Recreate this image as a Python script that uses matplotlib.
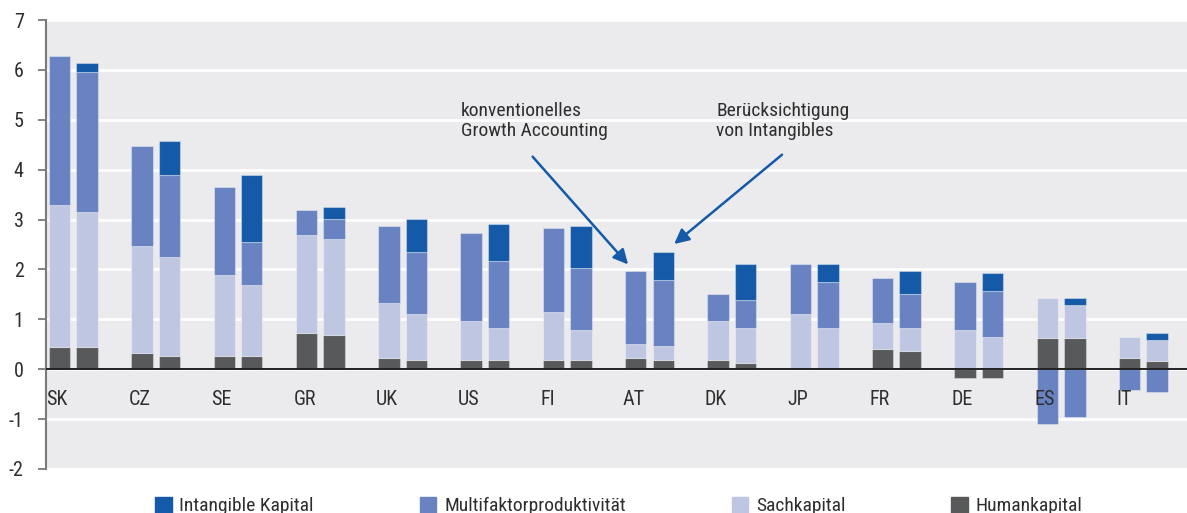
import numpy as np
import matplotlib.pyplot as plt
from matplotlib import font_manager
from matplotlib.patches import Patch

# schmale Schrift, falls vorhanden
installed = {f.name for f in font_manager.fontManager.ttflist}
narrow = [n for n in ['Liberation Sans Narrow', 'Roboto Condensed', 'DejaVu Sans Condensed',
                      'Open Sans Condensed', 'Noto Sans Condensed', 'Arial Narrow']
          if n in installed]
plt.rcParams['font.family'] = narrow + ['DejaVu Sans']
plt.rcParams['font.stretch'] = 'condensed'
plt.rcParams['axes.unicode_minus'] = False

countries = ['SK', 'CZ', 'SE', 'GR', 'UK', 'US', 'FI', 'AT', 'DK', 'JP', 'FR', 'DE', 'ES', 'IT']

# konventionelles Growth Accounting
human_conv = [0.45, 0.32, 0.27, 0.73, 0.23, 0.18, 0.18, 0.23, 0.18, 0.00, 0.41, -0.18, 0.63, 0.23]
sach_conv = [2.85, 2.15, 1.61, 1.97, 1.10, 0.78, 0.97, 0.27, 0.78, 1.10, 0.51, 0.78, 0.79, 0.41]
mfp_conv = [2.97, 2.01, 1.78, 0.50, 1.55, 1.78, 1.69, 1.47, 0.55, 1.01, 0.91, 0.96, -1.10, -0.41]

# mit Berücksichtigung von Intangibles
human_int = [0.45, 0.27, 0.27, 0.68, 0.18, 0.18, 0.18, 0.18, 0.13, 0.00, 0.37, -0.18, 0.63, 0.17]
sach_int = [2.71, 1.98, 1.42, 1.93, 0.92, 0.64, 0.60, 0.28, 0.69, 0.82, 0.46, 0.64, 0.66, 0.42]
mfp_int = [2.79, 1.65, 0.87, 0.41, 1.25, 1.34, 1.25, 1.33, 0.56, 0.93, 0.68, 0.92, -0.96, -0.45]
intang_int = [0.18, 0.67, 1.33, 0.23, 0.67, 0.76, 0.85, 0.55, 0.73, 0.36, 0.46, 0.37, 0.13, 0.14]

legend_labels = ['Intangible Kapital', 'Multifaktorproduktivität', 'Sachkapital', 'Humankapital']

c_intang = '#155aa8'
c_mfp = '#6983c2'
c_sach = '#bec6e2'
c_human = '#58595b'
text_col = '#2e2e2e'


def stacked(ax, x, parts, cols, width):
    pos = np.zeros(len(x))
    neg = np.zeros(len(x))
    for vals, c in zip(parts, cols):
        vals = np.asarray(vals, dtype=float)
        bottom = np.where(vals >= 0, pos, neg)
        ax.bar(x, vals, width, bottom=bottom, color=c,
               edgecolor=(1, 1, 1, 0.35), linewidth=0.8, zorder=2)
        pos += np.clip(vals, 0, None)
        neg += np.clip(vals, None, 0)


fig = plt.figure(figsize=(11.87, 5.13), dpi=100)
ax = fig.add_axes([46 / 1187, 1 - 469 / 513, 1 - 46 / 1187, 449 / 513])
ax.set_facecolor('#ebebee')

x = np.arange(len(countries))
w = 0.26
off = 0.167

stacked(ax, x - off, [human_conv, sach_conv, mfp_conv], [c_human, c_sach, c_mfp], w)
stacked(ax, x + off, [human_int, sach_int, mfp_int, intang_int],
        [c_human, c_sach, c_mfp, c_intang], w)

ax.set_xlim(-0.332, 13.53)
ax.set_ylim(-2, 7)
ax.set_yticks(range(-2, 8))
ax.set_xticks([])
ax.grid(axis='y', color='white', linewidth=2)
ax.set_axisbelow(True)
ax.axhline(0, color='#222222', linewidth=1.4, zorder=3)

for s in ['top', 'right', 'bottom']:
    ax.spines[s].set_visible(False)
ax.spines['left'].set_color('#7a7a7a')
ax.spines['left'].set_linewidth(1.5)
ax.tick_params(axis='y', length=6, width=1.3, color='#7a7a7a', pad=10,
               labelsize=14.5, labelcolor=text_col)

for i, c in enumerate(countries):
    ax.text(i - off - w / 2 - 0.03, -0.6, c, ha='left', va='center',
            fontsize=14.5, color=text_col, zorder=4)

# Hinweise auf die beiden Balkenvarianten
arrow = dict(arrowstyle='-|>', color=c_intang, lw=1.8, mutation_scale=22,
             shrinkA=0, shrinkB=0)
ax.text(4.71, 5.36, 'konventionelles\nGrowth Accounting', ha='left', va='top',
        fontsize=14, color=text_col, linespacing=1.15)
ax.annotate('', xy=(6.74, 2.10), xytext=(5.58, 4.26), arrowprops=arrow)
ax.text(7.81, 5.36, 'Berücksichtigung\nvon Intangibles', ha='left', va='top',
        fontsize=14, color=text_col, linespacing=1.15)
ax.annotate('', xy=(7.30, 2.51), xytext=(8.61, 4.30), arrowprops=arrow)

handles = [Patch(color=c) for c in [c_intang, c_mfp, c_sach, c_human]]
fig.legend(handles, legend_labels, loc='upper left', ncol=4,
           bbox_to_anchor=(155 / 1187, 1 - 497 / 513), frameon=False,
           fontsize=14, labelcolor=text_col, borderpad=0, borderaxespad=0,
           handlelength=0.85, handleheight=0.85, handletextpad=0.4,
           columnspacing=5.45)

fig.savefig('out.png', dpi=100)
